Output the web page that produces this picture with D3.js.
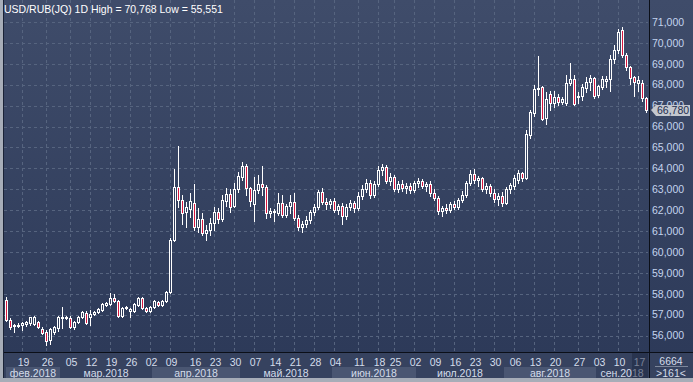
<!DOCTYPE html>
<html lang="ru">
<head>
<meta charset="UTF-8">
<style>
  body { margin: 0; background: #2f3c5b; }
  svg { display: block; font-family: "Liberation Sans", Arial, sans-serif; }
</style>
<script src="https://cdn.jsdelivr.net/npm/d3@7"></script>
</head>
<body>
<div id="chart"></div>
<script>
// daily USD/RUB candles, Feb..Sep 2018
var opens = [57720,56760,56470,56480,56520,56560,56600,56560,56640,56330,
  56190,55810,56190,56380,56860,56910,56860,56430,56670,56910,
  57100,56910,57050,57140,57240,57480,57530,57810,57670,56950,
  57340,57190,57190,57480,57810,57340,57190,57390,57620,57480,
  57670,58100,60580,63120,62500,61920,62070,62350,61200,61590,
  60920,61060,61400,61920,61590,62450,62780,62210,63020,63590,
  64120,63070,62300,62970,63260,63120,61870,61920,61870,62350,
  61780,62210,62400,61630,
  61200,61350,61550,61900,62150,62850,62400,62300,62450,62000,
  62200,61700,62150,62350,62100,62700,63000,63300,62750,63250,
  63900,64050,63400,63600,63000,63250,63050,63150,62950,63300,
  63400,63150,63250,62800,62600,61950,62100,62000,62300,62150,
  62500,62750,63300,63750,63450,63550,63000,63150,62800,62550,
  62700,62350,
  63000,63160,63450,63790,63550,65600,66650,67800,67890,66410,
  67560,67130,67420,67180,67130,68080,68270,67420,67460,67850,
  68130,68320,67510,67890,68180,68270,69230,69660,70620,69420,
  68850,68370,68080,68080,67370];
var highs = [57860,56860,56570,56620,56660,56700,56900,56920,56700,56400,
  56250,56380,56480,56950,57380,56950,56950,56720,56960,57190,
  57190,57240,57190,57330,57580,57620,58050,58000,57720,57380,
  57430,57340,57580,57860,57860,57390,57430,57720,57670,57720,
  58150,60680,63980,65070,62730,62400,62830,63260,62110,61870,
  61300,61640,62160,62110,62730,63070,63020,63310,63830,64310,
  64220,63120,63590,63690,64120,63210,62110,62060,62830,62730,
  62300,62730,62830,61780,
  61500,61700,62000,62300,62950,63050,62600,62550,62600,62300,
  62350,62300,62500,62450,62850,63200,63500,63450,63400,64100,
  64200,64150,63800,63700,63400,63450,63300,63300,63400,63550,
  63500,63350,63400,63000,62700,62200,62300,62400,62450,62600,
  62900,63400,63900,63950,63650,63600,63300,63250,63000,62800,
  62850,63100,
  63300,63700,63930,63850,65840,66800,67990,69380,67940,67650,
  67700,67700,67560,67420,68470,69040,68470,67660,68040,68370,
  68470,68370,68000,68400,68420,69420,69900,70650,70768,69500,
  68900,68420,68420,68230,67420];
var lows = [56700,56330,56190,56430,56280,56480,56520,56520,56350,56090,
  55551,55600,56090,56230,56380,56810,56380,56330,56620,56860,
  56570,56520,57000,57100,57190,57430,57480,57620,56900,56900,
  57290,56910,57140,57430,57290,57140,57140,57340,57430,57430,
  57620,58050,60530,62160,61350,61200,61680,61060,60970,60820,
  60580,60820,61060,61400,61490,62210,61920,62160,62880,63450,
  62730,62210,61490,62830,62730,61630,61680,61490,61780,61680,
  61680,61870,61540,61060,
  60950,61200,61400,61750,62050,62300,62050,62100,61900,61800,
  61350,61600,62000,61900,62000,62550,62850,62600,62650,63150,
  63700,63300,63200,62900,62850,62900,62800,62800,62850,63100,
  63050,62900,62700,62500,61800,61700,61850,61900,62050,62050,
  62400,62650,63200,63300,63150,62900,62800,62700,62400,62250,
  62200,62300,
  62800,63000,63300,63400,63500,65460,66510,67510,66320,66130,
  66800,66940,67030,67080,67030,67990,67030,67130,67270,67660,
  67750,67370,67420,67800,67890,67700,69040,69520,69330,68700,
  68040,67470,67700,67240,66700];
var closes = [56760,56420,56520,56520,56600,56650,56880,56900,56400,56140,
  55760,56330,56430,56910,56910,56860,56430,56670,56910,57140,
  56620,57050,57140,57290,57530,57570,57810,57670,56950,57340,
  57390,57290,57530,57810,57340,57190,57390,57670,57480,57670,
  58100,60580,63120,62500,61880,62160,62450,61200,61590,60920,
  61060,61400,61920,61590,62500,62780,62160,63020,63640,64120,
  63070,62450,62970,63260,63120,61870,61970,61970,62350,61780,
  62210,62400,61630,61200,
  61350,61550,61900,62150,62850,62400,62300,62450,62000,62200,
  61700,62150,62350,62100,62700,63000,63300,62750,63250,63900,
  64050,63400,63600,63000,63250,63050,63150,62950,63300,63400,
  63150,63250,62800,62600,61950,62100,62000,62300,62150,62500,
  62750,63300,63750,63450,63550,63000,63150,62800,62550,62700,
  62350,63000,
  63210,63550,63790,63550,65650,66700,67800,67850,66370,67320,
  67130,67420,67180,67320,68080,68270,67080,67460,67890,68130,
  68320,67470,67940,68270,68270,69230,69660,70520,69420,68850,
  68320,68130,68230,67370,66780];

var yTicks = d3.range(56000, 71001, 1000);
var weekLabels = ["19","26","05","12","19","26","02","09","16","23","30","07","14","21","28",
  "04","11","18","25","02","09","16","23","30","06","13","20","27","03","10","17"];
var weekBars = [4,10,16,21,26,31,36,41,47,52,57,62,67,72,77,
  82,88,93,97,102,107,112,117,122,127,132,137,143,148,153,158];
var monthNames = ["фев.2018","мар.2018","апр.2018","май.2018","июн.2018","июл.2018","авг.2018","сен.2018"];
var monthStarts = [0,14,37,59,82,103,125,148];
var lastPrice = 66780;
var title = "USD/RUB(JQ) 1D High = 70,768 Low = 55,551";

var W = 693, H = 382;
var left = 4, right = 648, bottom = 352, axisBottom = 378;

var svg = d3.select("#chart").append("svg")
    .attr("width", W)
    .attr("height", H);

var defs = svg.append("defs");
var grad = defs.append("linearGradient")
    .attr("id", "bgGrad")
    .attr("gradientUnits", "userSpaceOnUse")
    .attr("x1", 0).attr("y1", 0).attr("x2", 0).attr("y2", bottom);
grad.append("stop").attr("offset", "0%").attr("stop-color", "#3f4c6a");
grad.append("stop").attr("offset", "100%").attr("stop-color", "#2d3a59");

defs.append("clipPath").attr("id", "plotClip")
    .append("rect").attr("x", left).attr("y", 0).attr("width", right - left).attr("height", bottom);

// backgrounds
svg.append("rect").attr("x", 0).attr("y", 0).attr("width", W).attr("height", bottom)
    .attr("fill", "url(#bgGrad)");
svg.append("rect").attr("x", 0).attr("y", bottom).attr("width", W).attr("height", axisBottom - bottom)
    .attr("fill", "#36425f");

var x = d3.scaleBand().domain(d3.range(opens.length)).range([left, right]);
var y = d3.scaleLinear().domain([56000, 71000]).range([335.7, 22]);

// grid
var grid = svg.append("g").attr("clip-path", "url(#plotClip)");
grid.selectAll("line.h").data(yTicks).enter().append("line")
    .attr("x1", left).attr("x2", right)
    .attr("y1", function (d) { return Math.round(y(d)) + 0.5; })
    .attr("y2", function (d) { return Math.round(y(d)) + 0.5; })
    .attr("stroke", "#56647f")
    .attr("stroke-dasharray", "3,3");
grid.selectAll("line.v").data(weekBars).enter().append("line")
    .attr("x1", function (d) { return x(d) + 2.5; })
    .attr("x2", function (d) { return x(d) + 2.5; })
    .attr("y1", 0).attr("y2", bottom)
    .attr("stroke", "#56647f")
    .attr("stroke-dasharray", "3,3");

// candles
var candles = svg.append("g").attr("clip-path", "url(#plotClip)")
    .selectAll("g").data(d3.range(opens.length)).enter().append("g");

candles.append("line")
    .attr("x1", function (i) { return x(i) + 2.5; })
    .attr("x2", function (i) { return x(i) + 2.5; })
    .attr("y1", function (i) { return Math.round(y(highs[i])); })
    .attr("y2", function (i) { return Math.round(y(lows[i])) + 1; })
    .attr("stroke", "#ffffff");

function bodyTop(i) { return Math.round(y(Math.max(opens[i], closes[i]))); }
function bodyBot(i) { return Math.round(y(Math.min(opens[i], closes[i]))); }

candles.append("rect")
    .attr("x", function (i) { return x(i) + 1; })
    .attr("y", bodyTop)
    .attr("width", 3)
    .attr("height", function (i) { return Math.max(bodyBot(i) - bodyTop(i), 1) + 1; })
    .attr("fill", "#ffffff");

candles.filter(function (i) { return bodyBot(i) - bodyTop(i) >= 2; })
    .append("rect")
    .attr("x", function (i) { return x(i) + 2; })
    .attr("y", function (i) { return bodyTop(i) + 1; })
    .attr("width", 1)
    .attr("height", function (i) { return bodyBot(i) - bodyTop(i) - 1; })
    .attr("fill", function (i) { return closes[i] < opens[i] ? "#d8163f" : "url(#bgGrad)"; });

// title
svg.append("text")
    .attr("x", 4).attr("y", 13)
    .attr("fill", "#ffffff")
    .style("font-size", "10.5px")
    .text(title);

// right price axis
svg.append("g").selectAll("text").data(yTicks).enter().append("text")
    .attr("x", 652)
    .attr("y", function (d) { return y(d); })
    .attr("dy", "0.35em")
    .attr("fill", "#c4d4ee")
    .style("font-size", "10.5px")
    .text(d3.format(","));

// last price tag
var ly = Math.round(y(lastPrice));
svg.append("path")
    .attr("d", "M651," + ly + "L656," + (ly - 5) + "H690V" + (ly + 6) + "H656Z")
    .attr("fill", "#c3c7cf");
svg.append("text")
    .attr("x", 657).attr("y", ly).attr("dy", "0.38em")
    .attr("fill", "#1d2c4e")
    .style("font-size", "10.5px")
    .text(d3.format(",")(lastPrice));

// month bands + labels
var mEnds = monthStarts.slice(1).concat([opens.length]);
var months = svg.append("g");
months.selectAll("rect").data(monthStarts).enter().append("rect")
    .attr("x", function (d) { return d === 0 ? 6 : x(d); })
    .attr("y", 367)
    .attr("width", function (d, k) { return (mEnds[k] === opens.length ? right : x(mEnds[k])) - (d === 0 ? 6 : x(d)); })
    .attr("height", 11)
    .attr("fill", function (d, k) { return k % 2 === 0 ? "#4a5672" : "#36425f"; });
months.selectAll("text").data(monthStarts).enter().append("text")
    .attr("x", function (d, k) {
        var a = d === 0 ? 6 : x(d), b = mEnds[k] === opens.length ? right : x(mEnds[k]);
        return (a + b) / 2;
    })
    .attr("y", 373).attr("dy", "0.35em")
    .attr("text-anchor", "middle")
    .attr("fill", "#d4dcea")
    .style("font-size", "10.5px")
    .text(function (d, k) { return monthNames[k]; });

// week day labels
svg.append("g").selectAll("text").data(weekBars).enter().append("text")
    .attr("x", function (d) { return x(d) + 3.5; })
    .attr("y", 362).attr("dy", "0.35em")
    .attr("text-anchor", "middle")
    .attr("fill", "#d4dcea")
    .style("font-size", "10.5px")
    .text(function (d, k) { return weekLabels[k]; });

// current week highlight
svg.append("rect")
    .attr("x", x(157)).attr("y", bottom)
    .attr("width", right - x(157)).attr("height", axisBottom - bottom)
    .attr("fill", "#1c2540").attr("opacity", 0.5);

// corner box
svg.append("text").attr("x", 671).attr("y", 361).attr("dy", "0.35em")
    .attr("text-anchor", "middle").attr("fill", "#d4dcea").style("font-size", "10.5px")
    .text("6664");
svg.append("line").attr("x1", 655).attr("x2", 688).attr("y1", 366.5).attr("y2", 366.5)
    .attr("stroke", "#7d879b");
svg.append("text").attr("x", 671).attr("y", 373).attr("dy", "0.35em")
    .attr("text-anchor", "middle").attr("fill", "#d4dcea").style("font-size", "10.5px")
    .text(">" + opens.length + "<");

// separators and frame
svg.append("line").attr("x1", 649.5).attr("x2", 649.5).attr("y1", 0).attr("y2", axisBottom)
    .attr("stroke", "#0b0f18");
svg.append("line").attr("x1", 3).attr("x2", W).attr("y1", bottom + 0.5).attr("y2", bottom + 0.5)
    .attr("stroke", "#0b0f18");
svg.append("line").attr("x1", 3.5).attr("x2", 3.5).attr("y1", 0).attr("y2", axisBottom)
    .attr("stroke", "#1a2236");
svg.append("rect").attr("x", 0).attr("y", 0).attr("width", 3).attr("height", H).attr("fill", "#a7adb8");
svg.append("rect").attr("x", 0).attr("y", axisBottom).attr("width", W).attr("height", H - axisBottom).attr("fill", "#a7adb8");
</script>
</body>
</html>
